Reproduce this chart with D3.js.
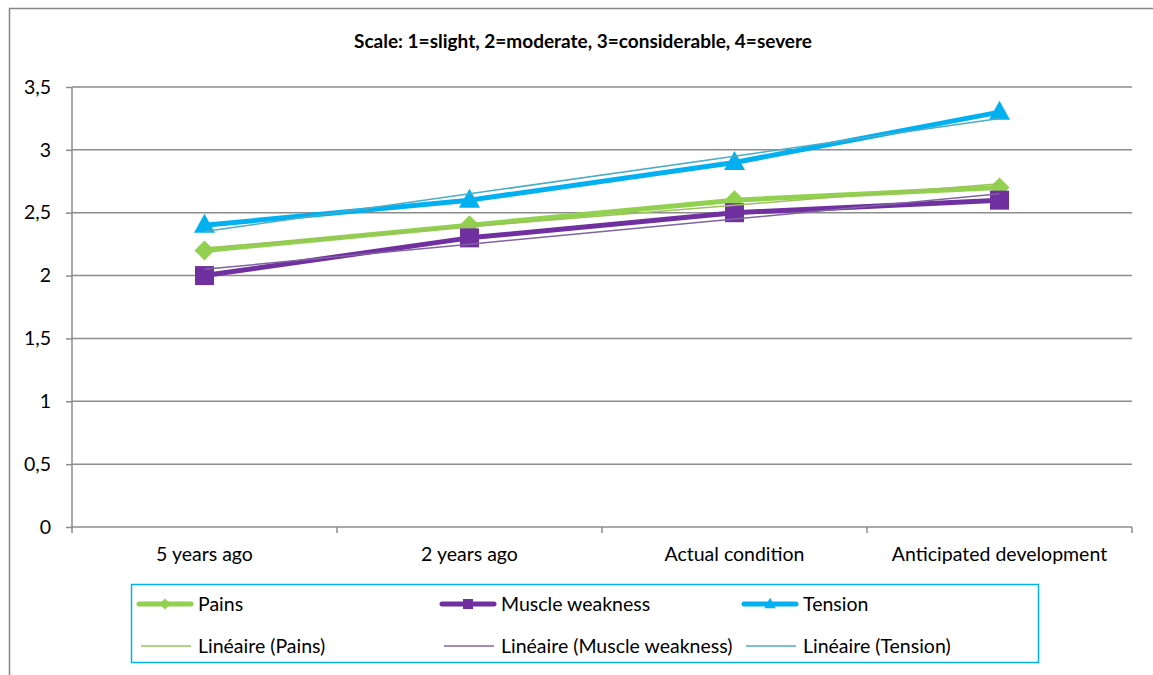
<!DOCTYPE html>
<html>
<head>
<meta charset="utf-8">
<script src="https://cdn.jsdelivr.net/npm/d3@7"></script>
<style>
  html, body { margin: 0; padding: 0; background: #fff; }
  svg { display: block; font-family: Lato, "Open Sans", sans-serif; }
</style>
</head>
<body>
<svg id="chart" width="1153" height="675"></svg>
<script>
// Categories and series values
const categories = ["5 years ago", "2 years ago", "Actual condition", "Anticipated development"];
const pains = [2.2, 2.4, 2.6, 2.7];
const muscleWeakness = [2.0, 2.3, 2.5, 2.6];
const tension = [2.4, 2.6, 2.9, 3.3];
const yTicks = [0, 0.5, 1, 1.5, 2, 2.5, 3, 3.5];
const titleText = "Scale: 1=slight, 2=moderate, 3=considerable, 4=severe";

const series = [
  { name: "Pains", values: pains, color: "#92d050", trendColor: "#9bc35a", marker: "diamond" },
  { name: "Muscle weakness", values: muscleWeakness, color: "#7030a0", trendColor: "#8064a2", marker: "square" },
  { name: "Tension", values: tension, color: "#00b0f0", trendColor: "#4bacc6", marker: "triangle" }
];

const labelSize = 19.5;

// Least-squares linear trend over category index 1..n
function linearTrend(vals) {
  const n = vals.length;
  const xs = vals.map((_, i) => i + 1);
  const mx = d3.mean(xs), my = d3.mean(vals);
  let sxy = 0, sxx = 0;
  xs.forEach((x, i) => { sxy += (x - mx) * (vals[i] - my); sxx += (x - mx) * (x - mx); });
  const b = sxy / sxx, a = my - b * mx;
  return xs.map(x => a + b * x);
}

const svg = d3.select("#chart");
const W = 1153, H = 675;
const plot = { left: 72, right: 1132, top: 87, bottom: 527 };

// Outer chart frame (left and top edges)
svg.append("path")
  .attr("d", `M9.5,${H} V8.5 H${W}`)
  .attr("fill", "none").attr("stroke", "#878787").attr("stroke-width", 1.5);

const x = d3.scaleBand().domain(categories).range([plot.left, plot.right]).padding(0);
const y = d3.scaleLinear().domain([0, 3.5]).range([plot.bottom, plot.top]);
const xc = c => x(c) + x.bandwidth() / 2;

// Title
svg.append("text")
  .attr("x", 583).attr("y", 48)
  .attr("text-anchor", "middle")
  .attr("font-size", 19).attr("font-weight", "bold").attr("fill", "#000")
  .text(titleText);

// Horizontal gridlines
svg.append("g").selectAll("line").data(yTicks.filter(t => t > 0)).join("line")
  .attr("x1", plot.left).attr("x2", plot.right)
  .attr("y1", d => y(d)).attr("y2", d => y(d))
  .attr("stroke", "#8c8c8c").attr("stroke-width", 1.5);

// Y axis
const yAxis = svg.append("g")
  .attr("transform", `translate(${plot.left},0)`)
  .call(d3.axisLeft(y).tickValues(yTicks).tickSize(6).tickPadding(15)
    .tickFormat(d => String(d).replace(".", ",")));
yAxis.select(".domain").attr("stroke", "#8c8c8c").attr("stroke-width", 1.5).attr("d", `M0,${plot.top}V${plot.bottom}`);
yAxis.selectAll(".tick line").attr("stroke", "#8c8c8c").attr("stroke-width", 1.5);
yAxis.selectAll(".tick text").attr("font-size", labelSize).attr("fill", "#000").attr("font-family", "Lato, sans-serif");

// X axis: baseline with ticks at category boundaries
const xAxisG = svg.append("g");
xAxisG.append("line")
  .attr("x1", plot.left).attr("x2", plot.right)
  .attr("y1", plot.bottom).attr("y2", plot.bottom)
  .attr("stroke", "#8c8c8c").attr("stroke-width", 1.5);
const boundaries = categories.map(c => x(c)).concat([x(categories[categories.length - 1]) + x.bandwidth()]);
xAxisG.selectAll("line.tk").data(boundaries).join("line").attr("class", "tk")
  .attr("x1", d => d).attr("x2", d => d)
  .attr("y1", plot.bottom).attr("y2", plot.bottom + 6)
  .attr("stroke", "#8c8c8c").attr("stroke-width", 1.5);
xAxisG.selectAll("text").data(categories).join("text")
  .attr("x", d => xc(d)).attr("y", plot.bottom + 34)
  .attr("text-anchor", "middle").attr("font-size", labelSize).attr("fill", "#000")
  .text(d => d);

// Marker shapes
function markerPath(type, s) {
  if (type === "diamond") return `M0,${-s}L${s},0L0,${s}L${-s},0Z`;
  if (type === "square") return `M${-s},${-s}H${s}V${s}H${-s}Z`;
  return `M0,${-s * 1.15}L${s * 1.05},${s * 0.75}H${-s * 1.05}Z`;
}
const markerSize = { diamond: 10, square: 9.5, triangle: 10 };

const line = d3.line().x((d, i) => xc(categories[i])).y(d => y(d));

// Data lines with markers
series.forEach(s => {
  svg.append("path").datum(s.values)
    .attr("d", line).attr("fill", "none")
    .attr("stroke", s.color).attr("stroke-width", 5)
    .attr("stroke-linejoin", "round").attr("stroke-linecap", "round");
  svg.append("g").selectAll("path").data(s.values).join("path")
    .attr("transform", (d, i) => `translate(${xc(categories[i])},${y(d)})`)
    .attr("d", markerPath(s.marker, markerSize[s.marker]))
    .attr("fill", s.color);
});

// Linear trendlines
series.forEach(s => {
  svg.append("path").datum(linearTrend(s.values))
    .attr("d", line).attr("fill", "none")
    .attr("stroke", s.trendColor).attr("stroke-width", 1.5);
});

// Legend
const legend = svg.append("g");
legend.append("rect")
  .attr("x", 131.5).attr("y", 584.5).attr("width", 907).attr("height", 78)
  .attr("fill", "#fff").attr("stroke", "#00b0f0").attr("stroke-width", 1.5);
const colX = [137, 440, 742];
series.forEach((s, i) => {
  const g = legend.append("g");
  const y1 = 604, y2 = 646, x0 = colX[i];
  g.append("line").attr("x1", x0 + 2).attr("x2", x0 + 54).attr("y1", y1).attr("y2", y1)
    .attr("stroke", s.color).attr("stroke-width", 5).attr("stroke-linecap", "round");
  g.append("path").attr("transform", `translate(${x0 + 28},${y1})`)
    .attr("d", markerPath(s.marker, s.marker === "square" ? 5 : 5.5)).attr("fill", s.color);
  g.append("text").attr("x", x0 + 61).attr("y", y1 + 7)
    .attr("font-size", labelSize).attr("fill", "#000").text(s.name);
  g.append("line").attr("x1", x0 + 4).attr("x2", x0 + 54).attr("y1", y2).attr("y2", y2)
    .attr("stroke", s.trendColor).attr("stroke-width", 1.5);
  g.append("text").attr("x", x0 + 61).attr("y", y2 + 7)
    .attr("font-size", labelSize).attr("fill", "#000").text(`Linéaire (${s.name})`);
});
</script>
</body>
</html>
